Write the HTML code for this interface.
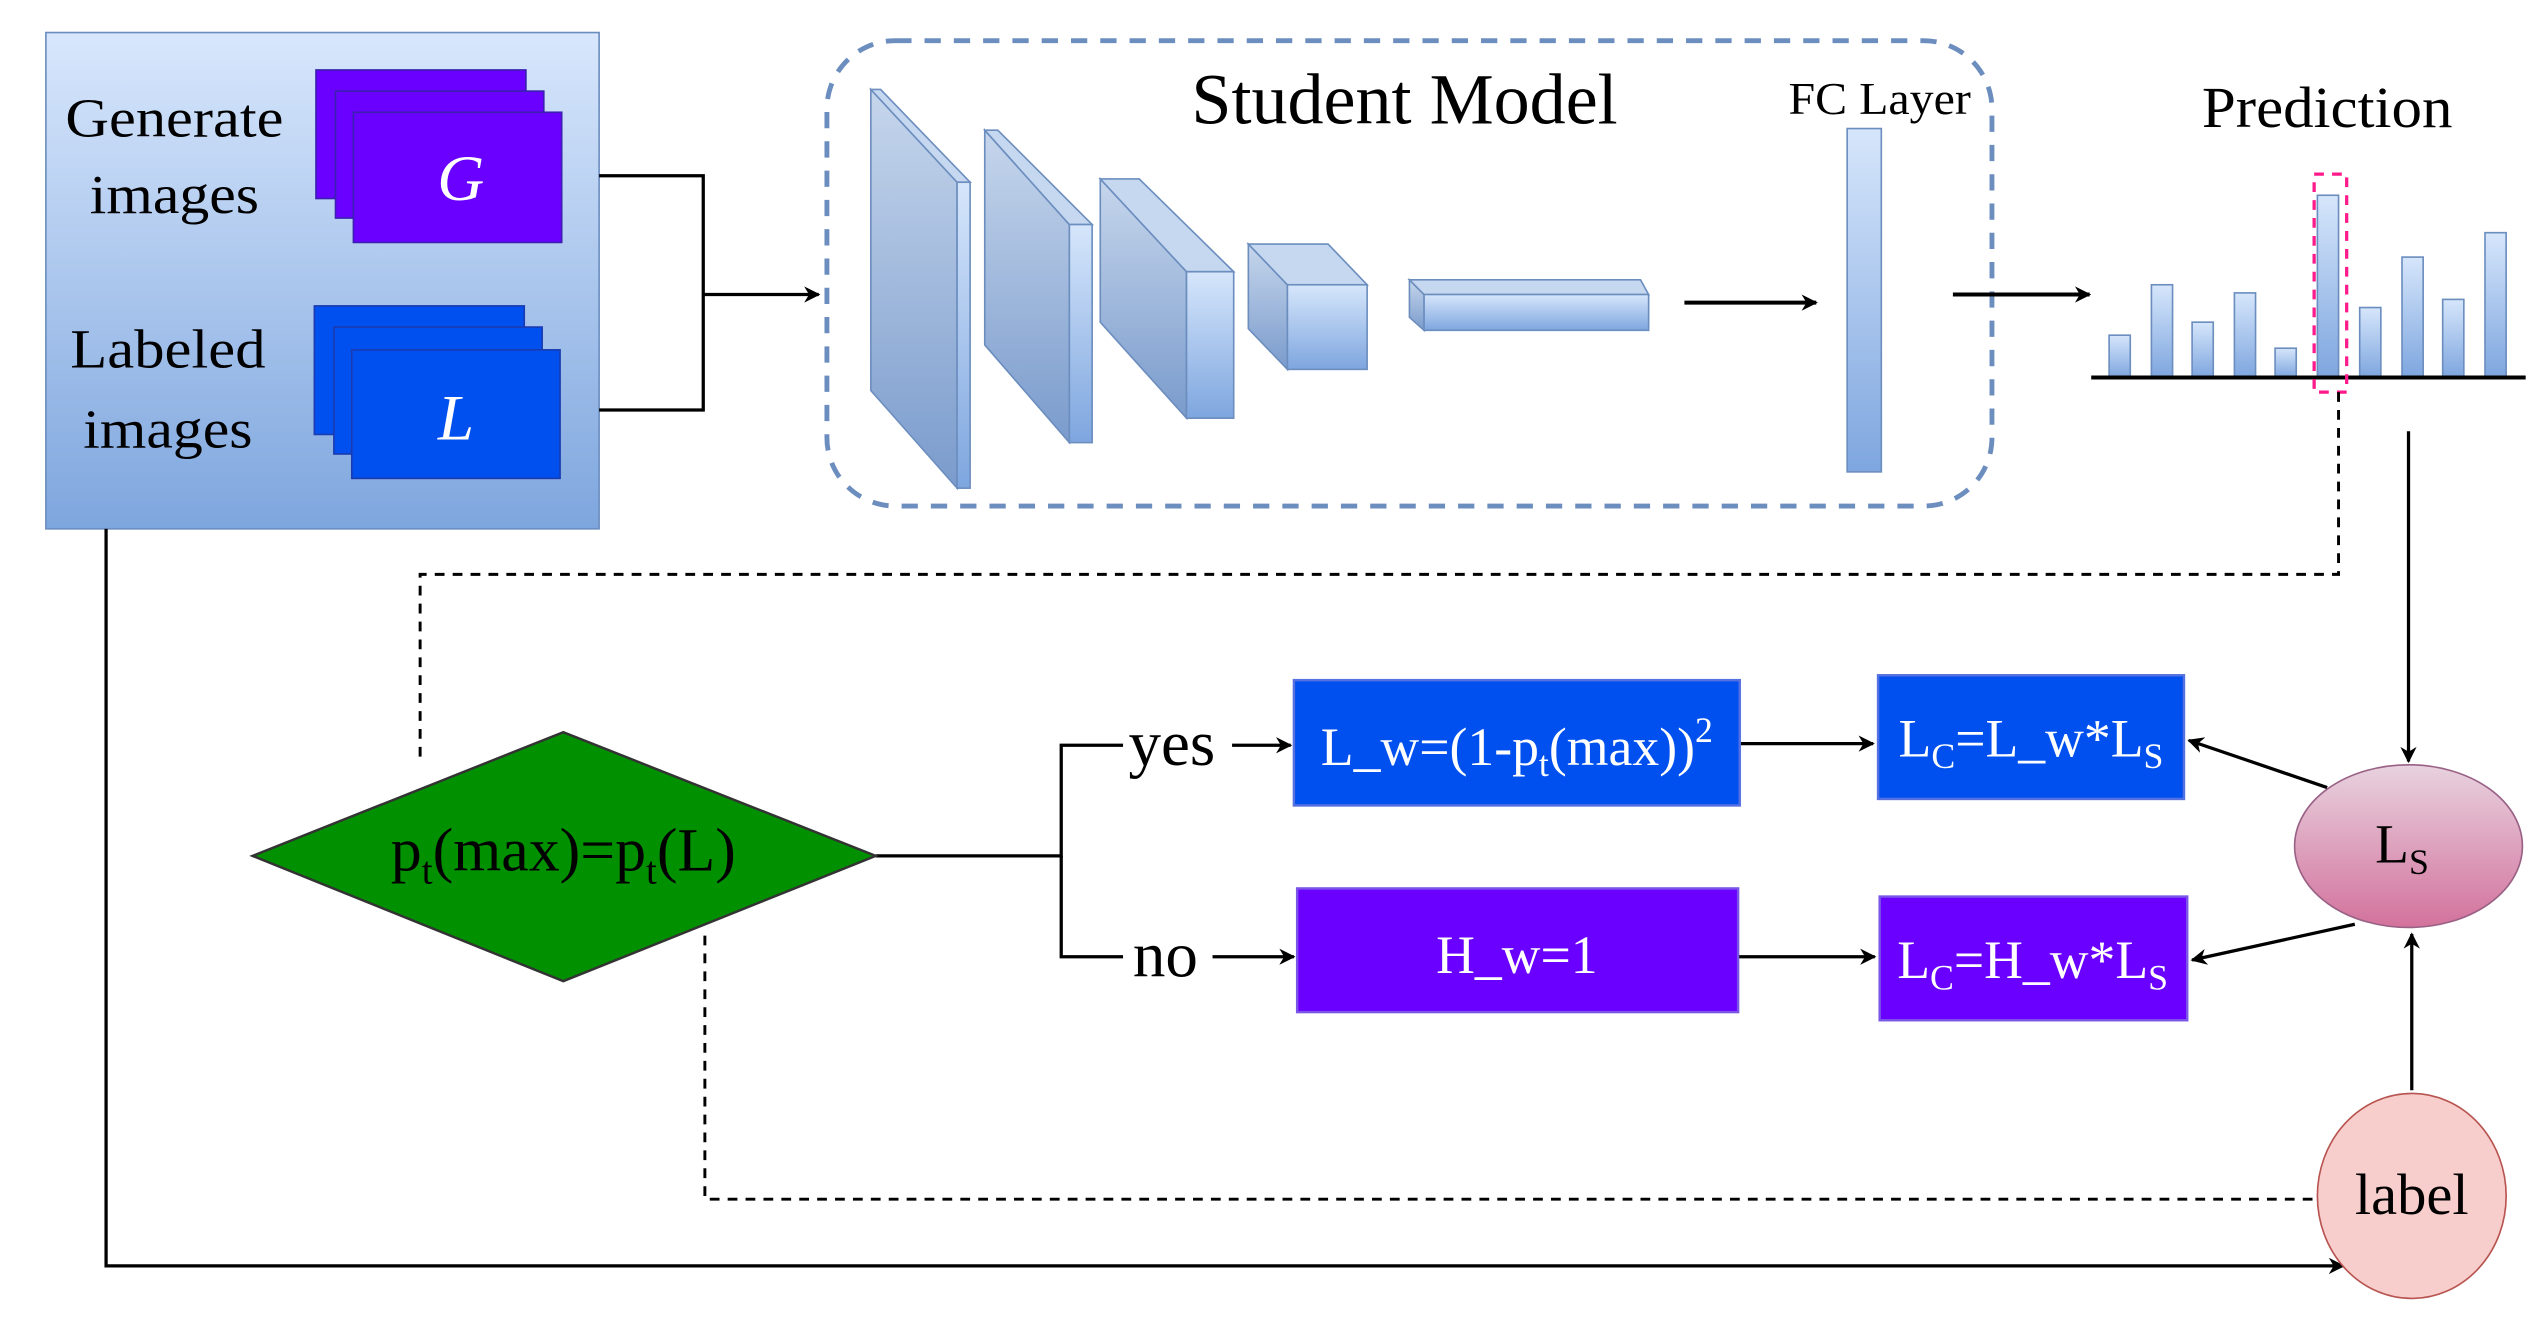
<!DOCTYPE html>
<html><head><meta charset="utf-8"><style>html,body{margin:0;padding:0;background:#fff}svg{display:block}svg text{font-family:"Liberation Serif","DejaVu Serif",serif}</style></head>
<body>
<svg width="2539" height="1318" viewBox="0 0 1560 810" xmlns="http://www.w3.org/2000/svg" style="font-family:'Liberation Serif',serif">
<defs>
<linearGradient id="bg" x1="0" y1="0" x2="0" y2="1"><stop offset="0" stop-color="#d8e7fc"/><stop offset="1" stop-color="#7ea6de"/></linearGradient>
<linearGradient id="lg" x1="0" y1="0" x2="0" y2="1"><stop offset="0" stop-color="#c6d6ec"/><stop offset="1" stop-color="#7a9bcc"/></linearGradient>
<linearGradient id="lg2" x1="0" y1="0" x2="0" y2="1"><stop offset="0" stop-color="#d6e6fb"/><stop offset="1" stop-color="#7ea6df"/></linearGradient>
<linearGradient id="ls" x1="0" y1="0" x2="0" y2="1"><stop offset="0" stop-color="#e8d2df"/><stop offset="1" stop-color="#d3729c"/></linearGradient>
<marker id="a" markerWidth="10" markerHeight="10" refX="9" refY="5" orient="auto" markerUnits="userSpaceOnUse"><path d="M0,0 L10,5 L0,10 L3,5 z" fill="#000"/></marker>
</defs>
<rect x="28" y="20" width="340" height="305" fill="url(#bg)" stroke="#6c8ebf" stroke-width="1"/>
<text x="107" y="84" font-size="34" text-anchor="middle" textLength="134" lengthAdjust="spacingAndGlyphs">Generate</text>
<text x="107" y="131" font-size="34" text-anchor="middle" textLength="104" lengthAdjust="spacingAndGlyphs">images</text>
<text x="103" y="226" font-size="34" text-anchor="middle" textLength="120" lengthAdjust="spacingAndGlyphs">Labeled</text>
<text x="103" y="275" font-size="34" text-anchor="middle" textLength="104" lengthAdjust="spacingAndGlyphs">images</text>
<g fill="#6a00ff" stroke="#3a1fb0" stroke-width="1">
<rect x="194" y="43" width="129" height="79"/><rect x="206" y="56" width="128" height="78"/><rect x="217" y="69" width="128" height="80"/></g>
<g fill="#0050ef" stroke="#1a3cb0" stroke-width="1">
<rect x="193" y="188" width="129" height="79"/><rect x="205" y="201" width="128" height="78"/><rect x="216" y="215" width="128" height="79"/></g>
<text x="283" y="123" font-size="40" fill="#fff" font-style="italic" text-anchor="middle">G</text>
<text x="280" y="270" font-size="40" fill="#fff" font-style="italic" text-anchor="middle">L</text>
<g stroke="#000" stroke-width="2" fill="none">
<path d="M368,108 H432 V252 H368"/>
<path d="M432,181 H503" marker-end="url(#a)"/>
</g>
<rect x="508" y="25" width="716" height="286" rx="42" fill="none" stroke="#6c8ebf" stroke-width="3" stroke-dasharray="10,8"/>
<text x="863" y="76" font-size="44" text-anchor="middle" textLength="262" lengthAdjust="spacingAndGlyphs">Student Model</text>
<g stroke="#6c8ebf" stroke-width="1">
<polygon points="535,55 588,112 588,300 535,240" fill="url(#lg)"/>
<polygon points="535,55 541,55 596,112 588,112" fill="#c6d8f0"/>
<rect x="588" y="112" width="8" height="188" fill="url(#lg2)"/>
<polygon points="605,80 657,138 657,272 605,212" fill="url(#lg)"/>
<polygon points="605,80 613,80 671,138 657,138" fill="#c6d8f0"/>
<rect x="657" y="138" width="14" height="134" fill="url(#lg2)"/>
<polygon points="676,110 729,167 729,257 676,198" fill="url(#lg)"/>
<polygon points="676,110 700,110 758,167 729,167" fill="#c6d8f0"/>
<rect x="729" y="167" width="29" height="90" fill="url(#lg2)"/>
<polygon points="767,150 791,175 791,227 767,202" fill="url(#lg)"/>
<polygon points="767,150 816,150 840,175 791,175" fill="#c6d8f0"/>
<rect x="791" y="175" width="49" height="52" fill="url(#lg2)"/>
<polygon points="866,172 875,181 875,203 866,195" fill="url(#lg)"/>
<polygon points="866,172 1008,172 1013,181 875,181" fill="#c6d8f0"/>
<rect x="875" y="181" width="138" height="22" fill="url(#lg2)"/>
<rect x="1135" y="79" width="21" height="211" fill="url(#lg2)"/>
</g>
<text x="1155" y="70" font-size="28" text-anchor="middle" textLength="112" lengthAdjust="spacingAndGlyphs">FC Layer</text>
<g stroke="#000" stroke-width="2.5" fill="none">
<path d="M1035,186 H1116" marker-end="url(#a)"/>
<path d="M1200,181 H1284" marker-end="url(#a)"/>
</g>
<text x="1430" y="78" font-size="36" text-anchor="middle" textLength="154" lengthAdjust="spacingAndGlyphs">Prediction</text>
<g fill="url(#lg2)" stroke="#6c8ebf" stroke-width="1">
<rect x="1296" y="206" width="13" height="26"/><rect x="1322" y="175" width="13" height="57"/>
<rect x="1347" y="198" width="13" height="34"/><rect x="1373" y="180" width="13" height="52"/>
<rect x="1398" y="214" width="13" height="18"/><rect x="1424" y="120" width="13" height="112"/>
<rect x="1450" y="189" width="13" height="43"/><rect x="1476" y="158" width="13" height="74"/>
<rect x="1501" y="184" width="13" height="48"/><rect x="1527" y="143" width="13" height="89"/>
</g>
<line x1="1285" y1="232" x2="1552" y2="232" stroke="#000" stroke-width="2.5"/>
<rect x="1422" y="107" width="20" height="134" fill="none" stroke="#ff1a8c" stroke-width="2" stroke-dasharray="6,5"/>
<g stroke="#000" stroke-width="1.8" fill="none" stroke-dasharray="6,5">
<path d="M1437,241 V353 H258 V470"/>
<path d="M433,575 V737 H1422"/>
</g>
<g stroke="#000" stroke-width="2" fill="none">
<path d="M1480,265 V468" marker-end="url(#a)"/>
<path d="M1482,670 V574" marker-end="url(#a)"/>
<path d="M65,325 V778 H1440" marker-end="url(#a)"/>
<path d="M538,526 H652 V458 H690"/>
<path d="M652,526 V588 H690"/>
<path d="M757,458 H793" marker-end="url(#a)"/>
<path d="M745,588 H795" marker-end="url(#a)"/>
<path d="M1069,457 H1151" marker-end="url(#a)"/>
<path d="M1068,588 H1152" marker-end="url(#a)"/>
<path d="M1430,484 L1345,455" marker-end="url(#a)"/>
<path d="M1447,568 L1347,590" marker-end="url(#a)"/>
</g>
<polygon points="155,526 346,450 538,526 346,603" fill="#009000" stroke="#333" stroke-width="1.5"/>
<text x="346" y="535" font-size="38" text-anchor="middle">p<tspan font-size="24" dy="8">t</tspan><tspan dy="-8">(max)=p</tspan><tspan font-size="24" dy="8">t</tspan><tspan dy="-8">(L)</tspan></text>
<text x="720" y="470" font-size="40" text-anchor="middle">yes</text>
<text x="716" y="600" font-size="40" text-anchor="middle">no</text>
<rect x="795" y="418" width="274" height="77" fill="#0050ef" stroke="#5570e0" stroke-width="1.5"/>
<text x="932" y="470" font-size="33" fill="#fff" text-anchor="middle">L_w=(1-p<tspan font-size="22" dy="7">t</tspan><tspan dy="-7">(max))</tspan><tspan font-size="22" dy="-14">2</tspan></text>
<rect x="797" y="546" width="271" height="76" fill="#6a00ff" stroke="#7a55e8" stroke-width="1.5"/>
<text x="932" y="598" font-size="33" fill="#fff" text-anchor="middle">H_w=1</text>
<rect x="1154" y="415" width="188" height="76" fill="#0050ef" stroke="#5570e0" stroke-width="1.5"/>
<text x="1248" y="465" font-size="33" fill="#fff" text-anchor="middle">L<tspan font-size="22" dy="7">C</tspan><tspan dy="-7">=L_w*L</tspan><tspan font-size="22" dy="7">S</tspan></text>
<rect x="1155" y="551" width="189" height="76" fill="#6a00ff" stroke="#7a55e8" stroke-width="1.5"/>
<text x="1249" y="601" font-size="33" fill="#fff" text-anchor="middle">L<tspan font-size="22" dy="7">C</tspan><tspan dy="-7">=H_w*L</tspan><tspan font-size="22" dy="7">S</tspan></text>
<ellipse cx="1480" cy="520" rx="70" ry="50" fill="url(#ls)" stroke="#996185" stroke-width="1"/>
<text x="1476" y="530" font-size="34" text-anchor="middle">L<tspan font-size="22" dy="7">S</tspan></text>
<ellipse cx="1482" cy="735" rx="58" ry="63" fill="#f8cecc" stroke="#b85450" stroke-width="1"/>
<text x="1482" y="746" font-size="36" text-anchor="middle">label</text>
</svg>
</body></html>
